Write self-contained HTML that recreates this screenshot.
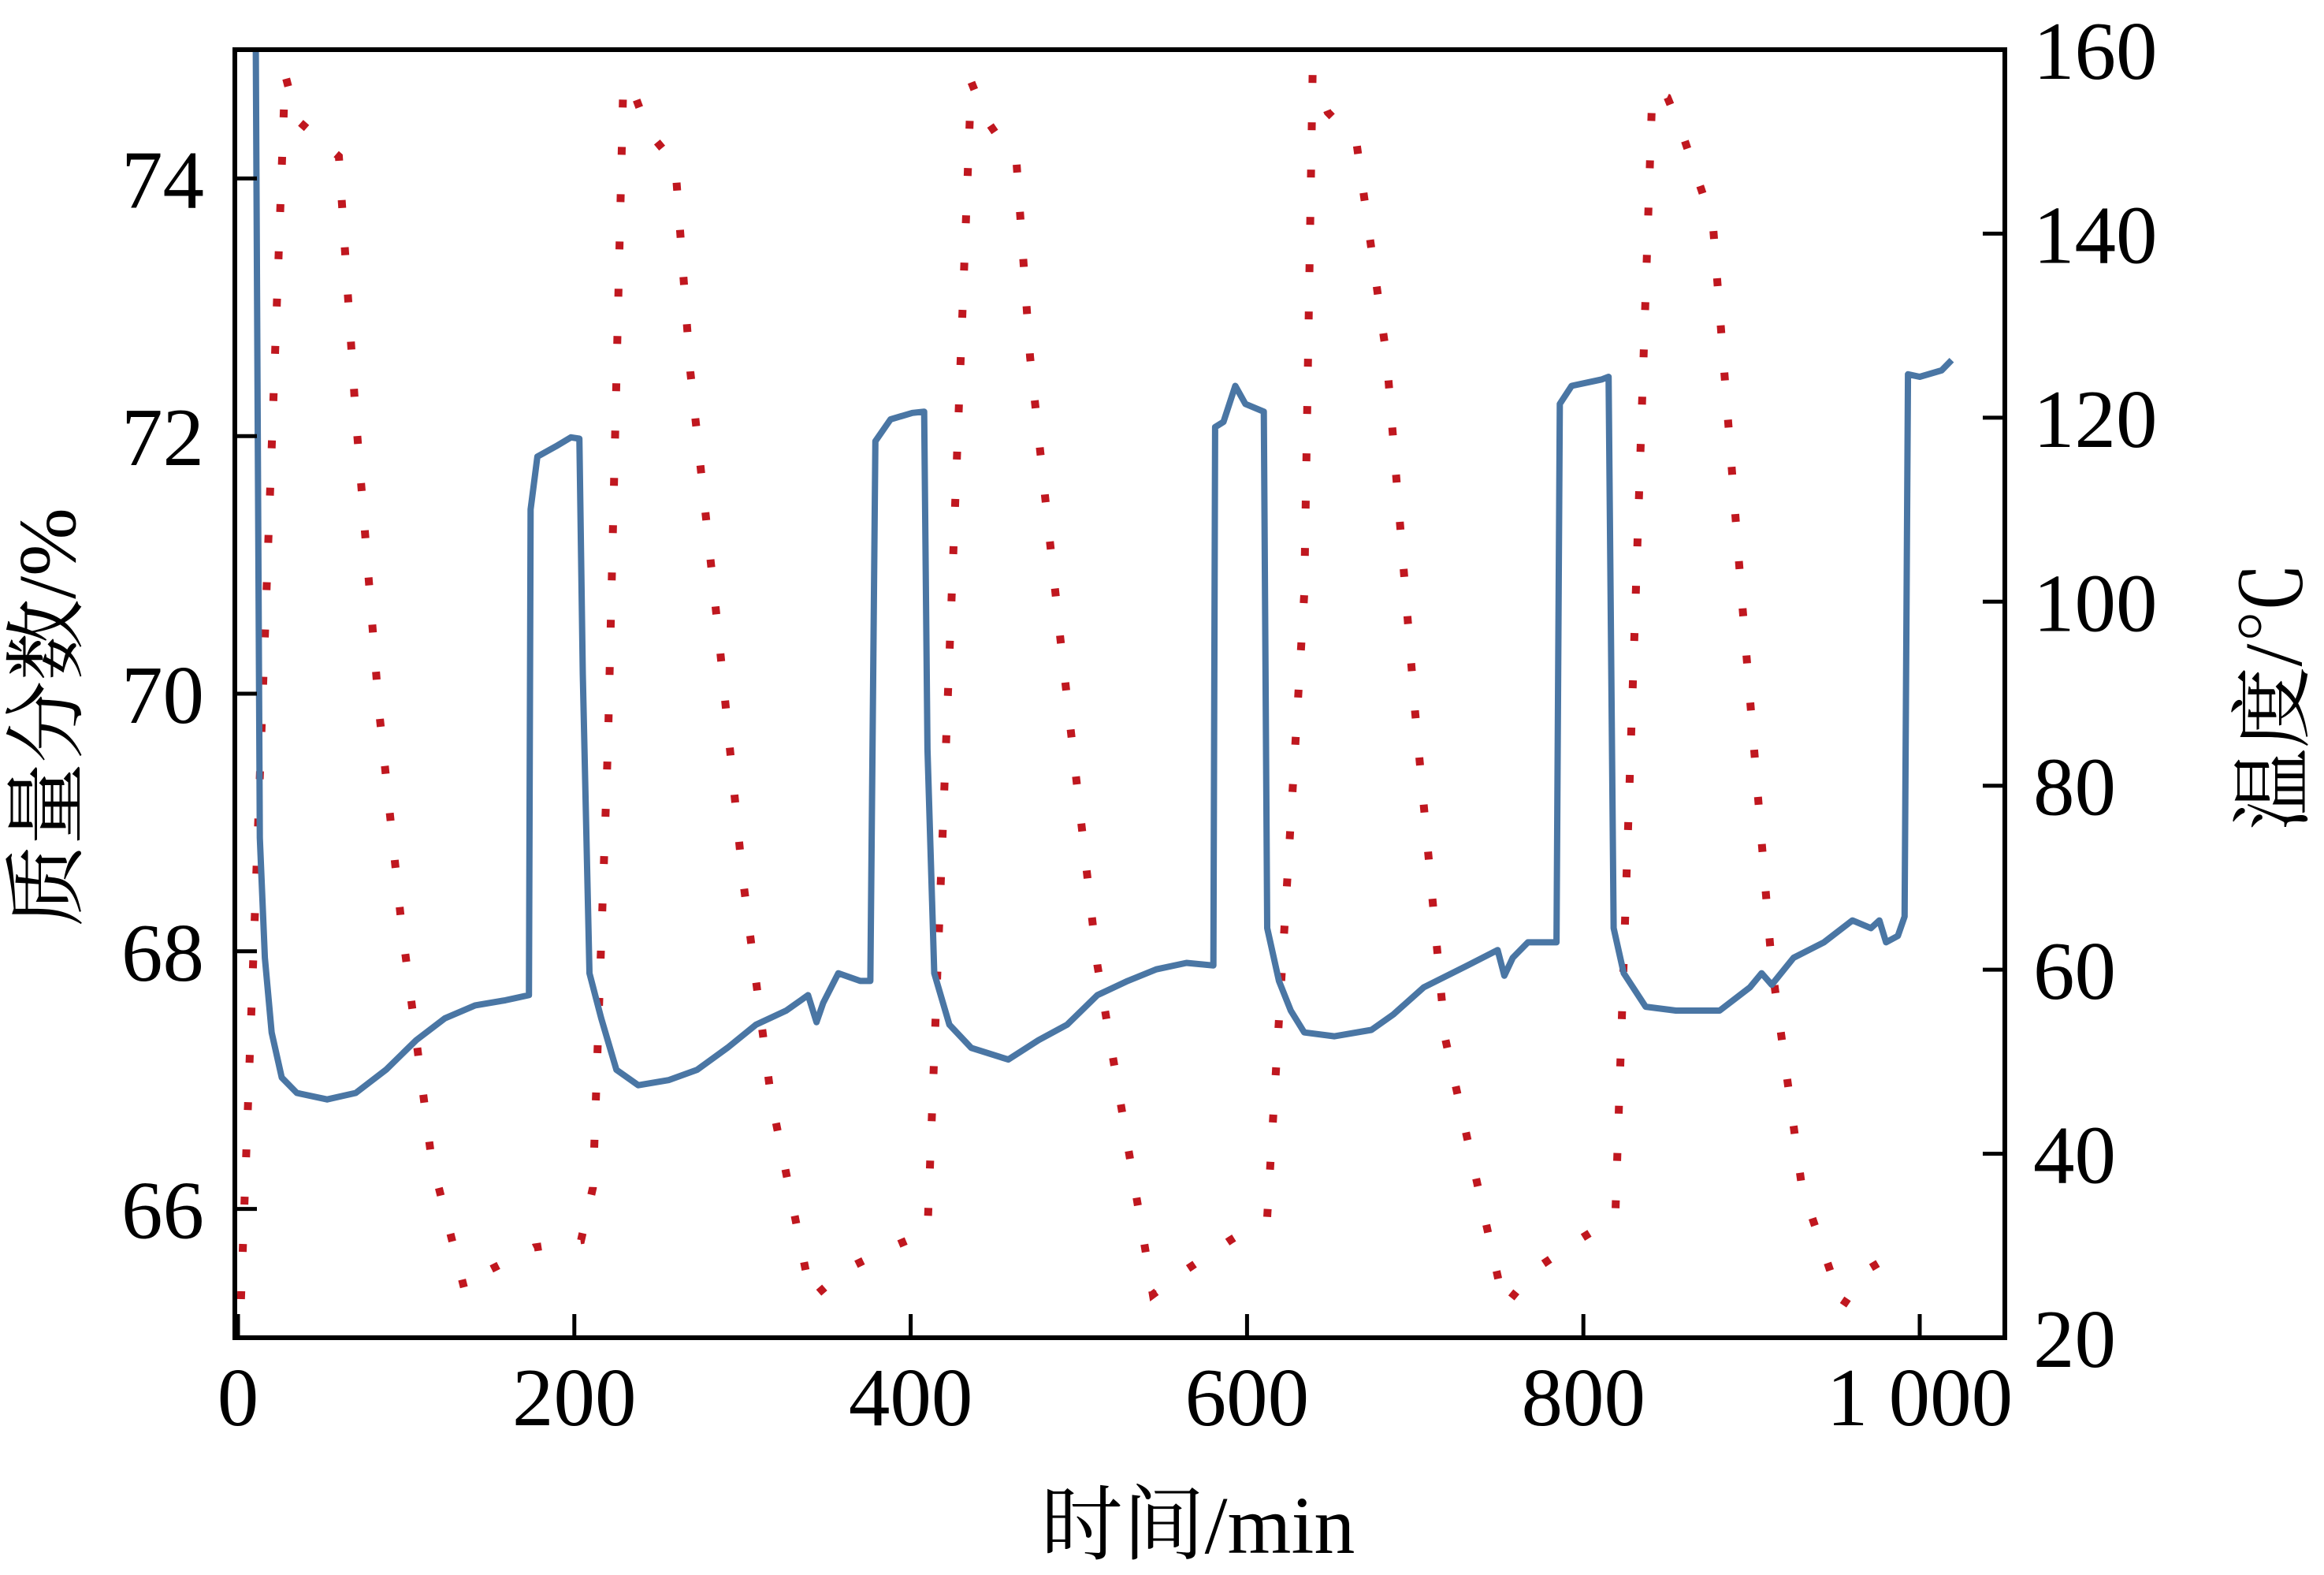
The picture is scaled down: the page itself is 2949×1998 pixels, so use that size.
<!DOCTYPE html>
<html><head><meta charset="utf-8"><style>
html,body{margin:0;padding:0;background:#fff;}
svg text{font-family:"Liberation Serif","Times New Roman","Noto Serif CJK SC",serif;fill:#000;}
</style></head><body>
<svg id="chart" width="2949" height="1993" viewBox="0 0 2949 1993" xmlns="http://www.w3.org/2000/svg" font-family="'Liberation Serif', 'Noto Serif CJK SC', serif">
<defs><clipPath id="plotclip"><rect x="298" y="63" width="2246" height="1634"/></clipPath></defs>
<g id="marks" clip-path="url(#plotclip)"></g>
<g id="axes"></g>
<text x="1520" y="1970" font-size="104" text-anchor="middle">时间/min</text>
<text transform="translate(95,910) rotate(-90)" font-size="104" text-anchor="middle">质量分数/%</text>
<text transform="translate(2920,883) rotate(-90)" font-size="104" text-anchor="middle">温度/℃</text>
</svg>
<script>
const xTicks=[0,200,400,600,800,1000];
const xTickLabels=["0","200","400","600","800","1 000"];
const leftTicks=[66,68,70,72,74];
const rightTicks=[20,40,60,80,100,120,140,160];
const massTime=[10,10.6,13,16,20,26,35,53,70,88,106,123,141,159,173,174,178,189,198,203,205,209,216,225,238,256,273,291,308,326,339,344,348,357,370,376,379,388,401,408,410,414,423,436,458,476,493,511,529,546,564,580,581,586,593,599,610,612,619,626,634,652,674,687,705,731,749,753,758,767,784,786,793,811,815,818,824,837,855,881,899,906,912,925,943,960,971,976,980,987,991,993,1000,1013,1019];
const massValue=[76,75,68.88,67.95,67.37,67.02,66.90,66.85,66.90,67.08,67.31,67.48,67.58,67.62,67.66,71.43,71.84,71.92,71.99,71.98,70.16,67.83,67.48,67.08,66.96,67.0,67.08,67.25,67.43,67.54,67.66,67.45,67.6,67.83,67.77,67.77,71.96,72.13,72.18,72.19,69.57,67.83,67.43,67.25,67.16,67.31,67.43,67.66,67.77,67.86,67.91,67.89,72.07,72.11,72.39,72.25,72.19,68.18,67.77,67.54,67.37,67.34,67.39,67.51,67.72,67.89,68.01,67.81,67.95,68.07,68.07,72.25,72.39,72.44,72.46,68.18,67.83,67.57,67.54,67.54,67.72,67.83,67.74,67.95,68.07,68.24,68.18,68.24,68.07,68.12,68.27,72.48,72.46,72.51,72.59];
const tempTime=[1.8,28,35,60,70,84,97,115,135,150,176,204,211,220,229,233,244,260,269,286,300,317,341,361,388,410,436,445,463,471,489,511,544,564,590,612,634,639,648,665,683,700,718,753,771,797,819,841,850,859,877,894,912,930,954,969,991];
const tempValue=[24.2,157.3,152.4,148.4,120.2,87.9,65.3,39.5,25,27.4,29.8,30.6,36.3,84.7,155.6,156.5,151.1,147.6,125,96,70.2,46,24.2,27.4,29.8,31.5,156.5,152.4,147.6,126.6,96,60.5,24.7,27.4,30.6,33.1,100.8,157.3,153.2,150,126.6,87.9,52.4,23.4,27.4,30.6,33.1,155.6,154.8,150.8,141.1,100.8,60.5,36.3,23.4,27.4,29.8];
const X0=298,X1=2544,Y0=63,Y1=1697;
const xs=t=>302+(t/1000)*(2436-302);
const yL=v=>Y1-(v-65)/10*(Y1-Y0);
const yR=v=>Y1-(v-20)/140*(Y1-Y0);
const NS="http://www.w3.org/2000/svg";
function mk(tag,attrs){const e=document.createElementNS(NS,tag);for(const k in attrs)e.setAttribute(k,attrs[k]);return e;}
const marks=document.getElementById('marks'),axes=document.getElementById('axes');
let d='';tempTime.forEach((t,i)=>{d+=(i?'L':'M')+xs(t).toFixed(1)+','+yR(tempValue[i]).toFixed(1);});
const tl=mk('path',{d:d,fill:'none',stroke:'#c0171f','stroke-width':10,'stroke-dasharray':'10 50'});


marks.appendChild(tl);
d='';massTime.forEach((t,i)=>{d+=(i?'L':'M')+xs(t).toFixed(1)+','+yL(massValue[i]).toFixed(1);});
const ml=mk('path',{d:d,fill:'none',stroke:'#4a76a4','stroke-width':8,'stroke-linejoin':'round'});


marks.appendChild(ml);
const fr=mk('rect',{x:X0,y:Y0,width:X1-X0,height:Y1-Y0,fill:'none',stroke:'#000','stroke-width':6});


axes.appendChild(fr);
xTicks.forEach((t,i)=>{const x=xs(t);
 const l=mk('line',{x1:x,x2:x,y1:Y1,y2:Y1-30,stroke:'#000','stroke-width':5});
 
 
 axes.appendChild(l);
 const tx=mk('text',{x:x,y:1808,'font-size':105,'text-anchor':'middle'});tx.textContent=xTickLabels[i];
 
 
 axes.appendChild(tx);});
leftTicks.forEach(v=>{const y=yL(v);
 const l=mk('line',{x1:X0,x2:X0+28,y1:y,y2:y,stroke:'#000','stroke-width':5});
 
 
 axes.appendChild(l);
 const tx=mk('text',{x:259,y:y+37,'font-size':105,'text-anchor':'end'});tx.textContent=v;
 
 
 axes.appendChild(tx);});
rightTicks.forEach(v=>{const y=yR(v);
 const l=mk('line',{x1:X1,x2:X1-28,y1:y,y2:y,stroke:'#000','stroke-width':5});
 
 
 axes.appendChild(l);
 const tx=mk('text',{x:2580,y:y+37,'font-size':105,'text-anchor':'start'});tx.textContent=v;
 
 
 axes.appendChild(tx);});
</script>
</body></html>
